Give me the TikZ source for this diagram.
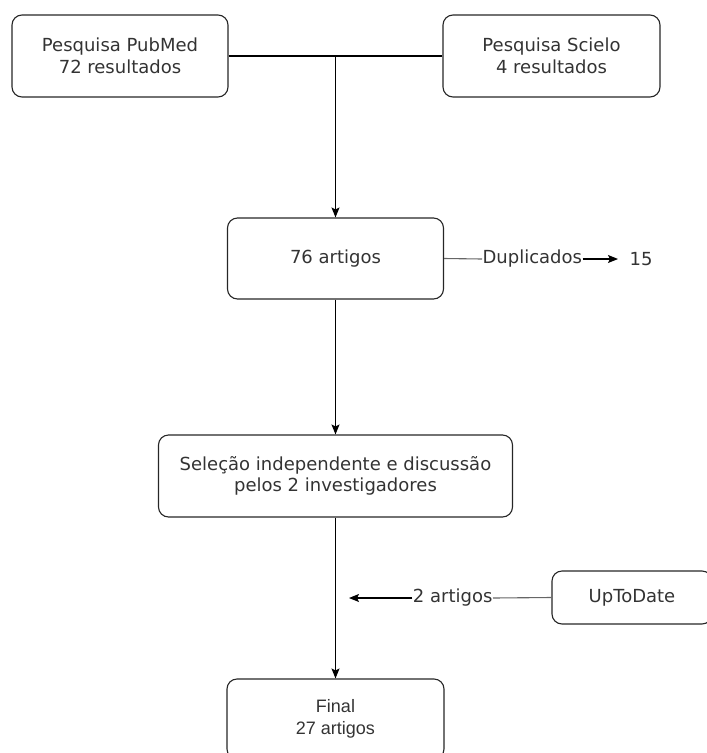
\documentclass[tikz,border=0pt]{standalone}
\usepackage{fontspec}
\setmainfont{DejaVu Sans}
\newfontfamily\arialfont{Liberation Sans}
\usepackage{tikz}
\usetikzlibrary{arrows.meta}
\usepackage{xcolor}

\begin{document}
\begin{tikzpicture}[->, >={Stealth[length=10pt, width=8pt, inset=2pt]}, x=1pt, y=-1pt, line width=1.1pt]
    \useasboundingbox (0,0) rectangle (707,753);
    \tikzstyle{state} = [draw=black!85, rounded corners=10pt, text centered, align=center,
        inner sep=0pt, text=black!80, font=\fontsize{18}{21.6}\selectfont]
    \tikzstyle{lbl} = [inner sep=0pt, text=black!80, font=\fontsize{18}{21.6}\selectfont]
    \node [state, minimum width=216pt, minimum height=82pt] at (120,56) (1) {Pesquisa PubMed\\72 resultados};
    \node [state, minimum width=217pt, minimum height=82pt] at (551.5,56) (2) {Pesquisa Scielo\\4 resultados};
    \node [state, minimum width=216pt, minimum height=81pt] at (335.5,258.5) (3) {76 artigos};
    \node [lbl, anchor=west] at (482,259) (4) {Duplicados};
    \node [lbl, anchor=west] at (629,259) (5) {15};
    \node [state, minimum width=354pt, minimum height=82pt] at (335.5,476) (6) {Seleção independente e discussão\\pelos 2 investigadores};
    \node [state, minimum width=160pt, minimum height=53pt] at (632,597.5) (7) {UpToDate};
    \node [lbl, anchor=east] at (493,598) (8) {2 artigos};
    \coordinate (9) at (349,598);
    \node [state, minimum width=217pt, minimum height=80pt, font=\arialfont\fontsize{18}{21.6}\selectfont] at (335.5,719) (10) {Final\\27 artigos};
    \draw[-] (1.east) -- (2.west);
    \draw (1.east -| 3.north) -- (3.north);
    \draw[-, black!60] (3.east) -- (4.west);
    \draw[shorten >=11pt] (4.east) -- (5.west);
    \draw (3.south) -- (6.north);
    \draw[-, black!60] (7.west) -- (8.east);
    \draw (8.west) -- (9);
    \draw (6.south) -- (10.north);
\end{tikzpicture}
\end{document}
